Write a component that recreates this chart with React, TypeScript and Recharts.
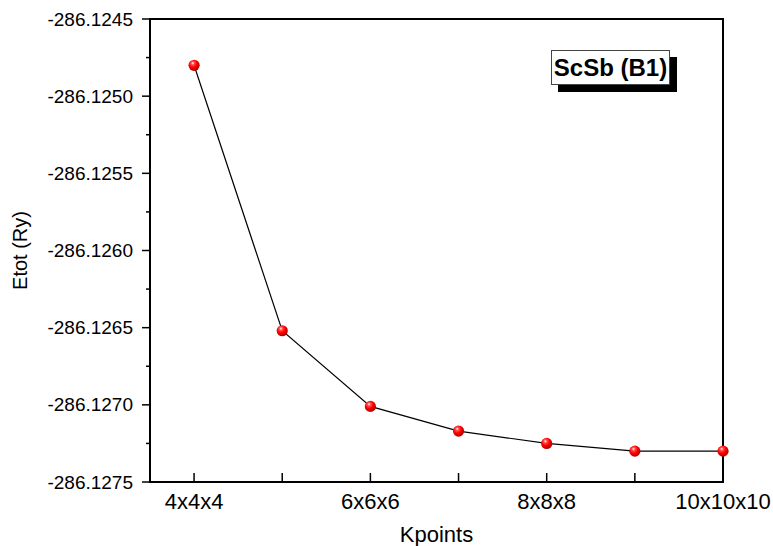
import React from "react"
import { LineChart, Line, XAxis, YAxis, ReferenceArea } from "recharts"

// k-point mesh (numeric position) and labels
const KPOINTS = [4, 5, 6, 7, 8, 9, 10]
const CATEGORIES = ["4x4x4", "5x5x5", "6x6x6", "7x7x7", "8x8x8", "9x9x9", "10x10x10"]
const ETOT = [-286.1248, -286.12652, -286.12701, -286.12717, -286.12725, -286.1273, -286.1273]

const X_TICK_LABELS = ["4x4x4", "", "6x6x6", "", "8x8x8", "", "10x10x10"]
const Y_TICKS = [
  -286.1275, -286.12725, -286.127, -286.12675, -286.1265, -286.12625, -286.126,
  -286.12575, -286.1255, -286.12525, -286.125, -286.12475, -286.1245,
]
const Y_TICK_LABELS = [
  "-286.1275", "", "-286.1270", "", "-286.1265", "", "-286.1260",
  "", "-286.1255", "", "-286.1250", "", "-286.1245",
]

const FONT = "'Liberation Sans', Arial, sans-serif"
const X_MARGIN = 11
const Y_MARGIN = 17

const data = KPOINTS.map((k, i) => ({ k, name: CATEGORIES[i], etot: ETOT[i] }))

function XTick({ x, y, index }: any) {
  const axisY = y - X_MARGIN
  return (
    <g>
      <line x1={x} x2={x} y1={axisY} y2={axisY - 9} stroke="#000" strokeWidth={1.5} />
      <text x={x} y={y} dy="0.71em" textAnchor="middle" fontSize={22} fontFamily={FONT} fill="#000">
        {X_TICK_LABELS[index]}
      </text>
    </g>
  )
}

function YTick({ x, y, index }: any) {
  const axisX = x + Y_MARGIN
  const major = index % 2 === 0
  return (
    <g>
      <line x1={axisX - (major ? 8 : 4)} x2={axisX} y1={y} y2={y} stroke="#000" strokeWidth={1.5} />
      <text x={x} y={y} dy="0.35em" textAnchor="end" fontSize={19} fontFamily={FONT} fill="#000">
        {Y_TICK_LABELS[index]}
      </text>
    </g>
  )
}

function Ball({ cx, cy, index }: any) {
  const id = `ball-${index}`
  return (
    <g>
      <defs>
        <radialGradient id={id} cx="40%" cy="35%" r="65%" fx="38%" fy="30%">
          <stop offset="0%" stopColor="#ffffff" />
          <stop offset="22%" stopColor="#ff5050" />
          <stop offset="55%" stopColor="#ff0000" />
          <stop offset="100%" stopColor="#b00000" />
        </radialGradient>
      </defs>
      <circle cx={cx} cy={cy} r={5.6} fill={`url(#${id})`} />
    </g>
  )
}

export default function App() {
  return (
    <div style={{ position: "absolute", left: 0, top: 0, width: 773, height: 546, background: "#fff" }}>
      <LineChart width={773} height={546} data={data} margin={{ top: 19, right: 50, bottom: 0, left: 0 }}>
        <XAxis
          dataKey="k"
          type="number"
          domain={[3.5, 10]}
          ticks={KPOINTS}
          interval={0}
          height={64}
          tickSize={0}
          tickMargin={X_MARGIN}
          tickLine={false}
          tick={<XTick />}
          axisLine={{ stroke: "#000", strokeWidth: 2 }}
          label={{ value: "Kpoints", position: "insideBottom", offset: 4, fontSize: 22, fontFamily: FONT, fill: "#000" }}
        />
        <YAxis
          type="number"
          domain={[-286.1275, -286.1245]}
          ticks={Y_TICKS}
          interval={0}
          width={150}
          tickSize={0}
          tickMargin={Y_MARGIN}
          tickLine={false}
          tick={<YTick />}
          axisLine={{ stroke: "#000", strokeWidth: 2 }}
          label={{ value: "Etot (Ry)", angle: -90, position: "insideLeft", offset: 20, fontSize: 20, fontFamily: FONT, fill: "#000", style: { textAnchor: "middle" } }}
        />
        <ReferenceArea
          x1={3.5}
          x2={10}
          y1={-286.1275}
          y2={-286.1245}
          fill="none"
          stroke="#000"
          strokeWidth={2}
          ifOverflow="visible"
        />
        <Line
          type="linear"
          dataKey="etot"
          stroke="#000"
          strokeWidth={1.2}
          dot={<Ball />}
          activeDot={false}
          isAnimationActive={false}
        />
      </LineChart>
      <div
        style={{
          position: "absolute",
          left: 551,
          top: 50,
          width: 119,
          height: 35,
          boxSizing: "border-box",
          border: "1px solid #444",
          background: "#fff",
          boxShadow: "7px 7px 0 #000",
          fontFamily: FONT,
          fontWeight: "bold",
          fontSize: 24,
          lineHeight: "33px",
          textAlign: "center",
          color: "#000",
          whiteSpace: "nowrap",
        }}
      >
        ScSb (B1)
      </div>
    </div>
  )
}
